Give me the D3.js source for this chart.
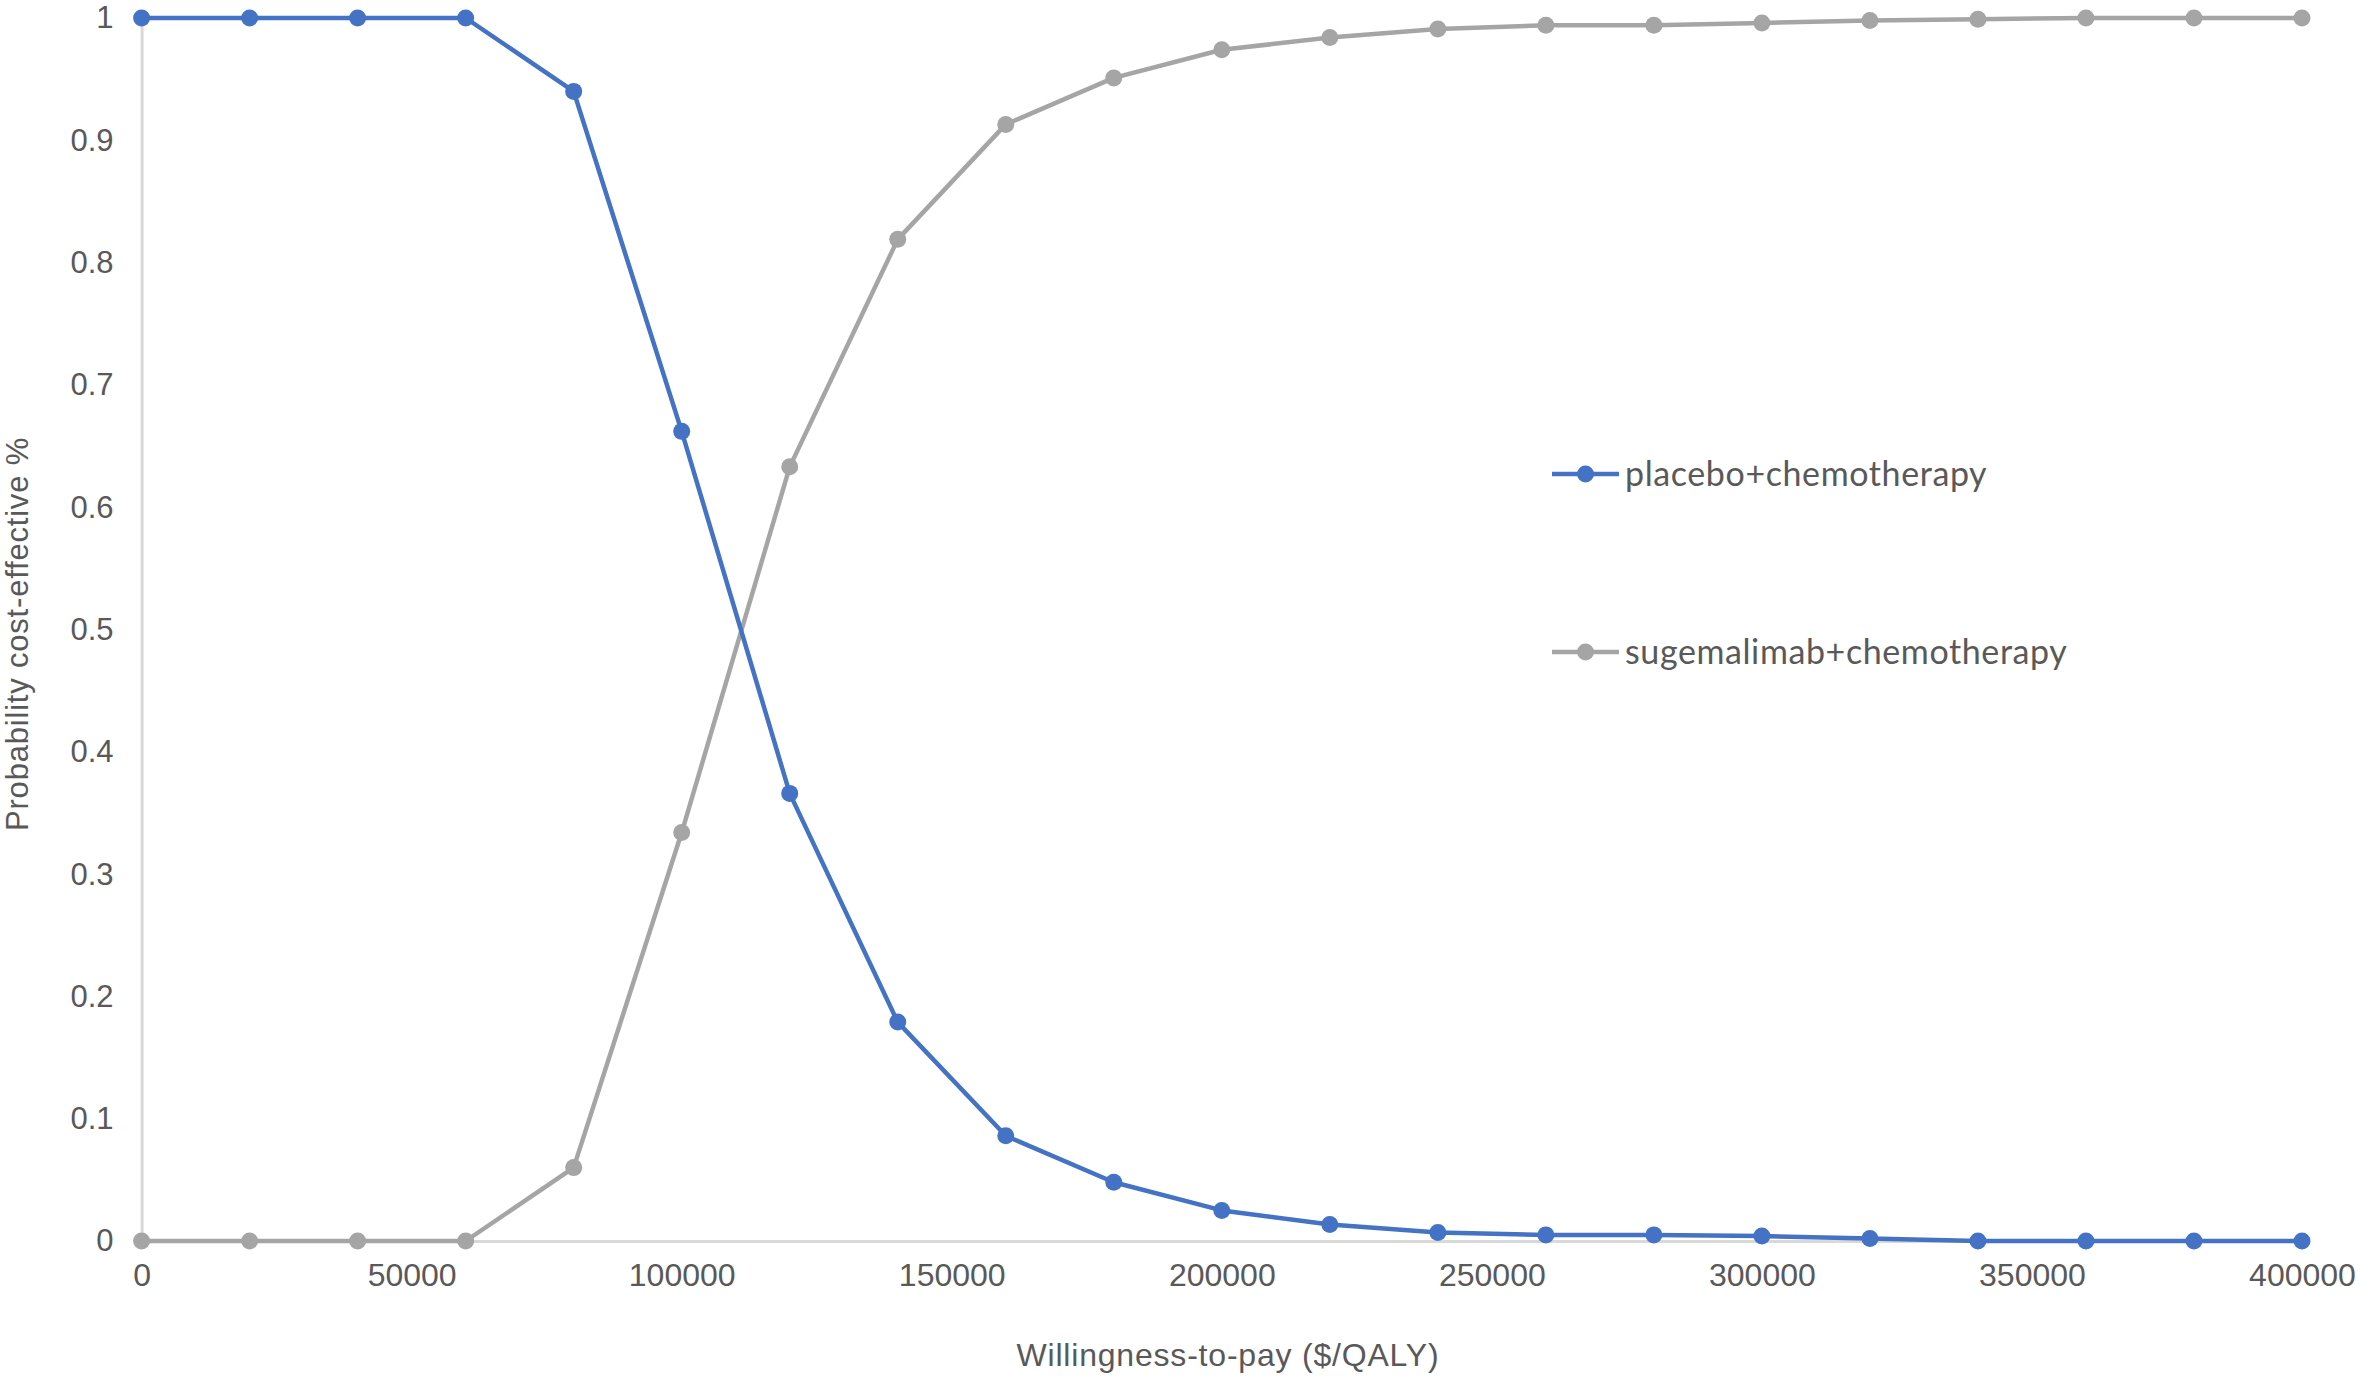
<!DOCTYPE html>
<html><head><meta charset="utf-8">
<script src="https://cdn.jsdelivr.net/npm/d3@7"></script>
<style>html,body{margin:0;padding:0;background:#fff;}svg{display:block;}</style>
</head><body>
<svg id="chart" width="2362" height="1376"></svg>
<script>
const wtp = [0,20000,40000,60000,80000,100000,120000,140000,160000,180000,200000,220000,240000,260000,280000,300000,320000,340000,360000,380000,400000];
const placebo = [1,1,1,1,0.94,0.662,0.366,0.179,0.086,0.048,0.025,0.0135,0.007,0.005,0.005,0.004,0.002,0,0,0,0];
const sugemalimab = [0,0,0,0,0.06,0.334,0.633,0.819,0.913,0.951,0.974,0.984,0.991,0.994,0.994,0.996,0.998,0.999,1,1,1];
const xTicks = [0,50000,100000,150000,200000,250000,300000,350000,400000];
const yTicks = [0,0.1,0.2,0.3,0.4,0.5,0.6,0.7,0.8,0.9,1];
const seriesNames = ["placebo+chemotherapy","sugemalimab+chemotherapy"];
const seriesColors = ["#4472C4","#A5A5A5"];

const svg = d3.select("#chart");
const m = {left:141.6, right:2362-2302, top:18, bottom:1376-1241};
const W = 2362, H = 1376;
const x = d3.scaleLinear().domain([0,400000]).range([m.left, W-m.right]);
const y = d3.scaleLinear().domain([0,1]).range([H-m.bottom, m.top]);
const font = "'Liberation Sans', Arial, sans-serif";
const textColor = "#595959";

// axes
const xAxis = svg.append("g").attr("transform",`translate(0,${y(0)})`)
  .call(d3.axisBottom(x).tickValues(xTicks).tickFormat(d3.format("d")).tickSize(0).tickPadding(22));
xAxis.select(".domain").attr("stroke","#D9D9D9").attr("stroke-width",3);
xAxis.selectAll("text").attr("font-family",font).attr("font-size",32).attr("fill",textColor);

const yAxis = svg.append("g").attr("transform",`translate(${x(0)},0)`)
  .call(d3.axisLeft(y).tickValues(yTicks).tickFormat(d=>d3.format("")(+d.toFixed(1))).tickSize(0).tickPadding(28));
yAxis.select(".domain").attr("stroke","#D9D9D9").attr("stroke-width",3);
yAxis.selectAll("text").attr("font-family",font).attr("font-size",31).attr("fill",textColor);

// titles
svg.append("text").attr("x",1228).attr("y",1366).attr("text-anchor","middle")
  .attr("font-family",font).attr("font-size",32).attr("fill",textColor).attr("letter-spacing",0.8)
  .text("Willingness-to-pay ($/QALY)");
svg.append("text").attr("transform",`translate(28,634) rotate(-90)`).attr("text-anchor","middle")
  .attr("font-family",font).attr("font-size",31).attr("fill",textColor).attr("letter-spacing",0.8)
  .text("Probability cost-effective %");

const line = d3.line().x((d,i)=>x(wtp[i])).y(d=>y(d));
const data = [placebo, sugemalimab];
// draw gray first, blue on top
[1,0].forEach(k=>{
  const g = svg.append("g");
  g.append("path").datum(data[k]).attr("d",line).attr("fill","none")
    .attr("stroke",seriesColors[k]).attr("stroke-width",4.5).attr("stroke-linejoin","round");
  g.selectAll("circle").data(data[k]).join("circle")
    .attr("cx",(d,i)=>x(wtp[i])).attr("cy",d=>y(d)).attr("r",8.5).attr("fill",seriesColors[k]);
});

// legend
const legY = [474, 652];
seriesNames.forEach((n,k)=>{
  const g = svg.append("g");
  g.append("line").attr("x1",1552).attr("x2",1619).attr("y1",legY[k]).attr("y2",legY[k])
    .attr("stroke",seriesColors[k]).attr("stroke-width",4.5);
  g.append("circle").attr("cx",1585.5).attr("cy",legY[k]).attr("r",8.5).attr("fill",seriesColors[k]);
  g.append("text").attr("x",1625).attr("y",legY[k]).attr("dy","0.35em")
    .attr("font-family","Lato, 'Liberation Sans', sans-serif").attr("font-size",34).attr("letter-spacing",0.6).attr("fill",textColor)
    .text(n);
});
</script>
</body></html>
